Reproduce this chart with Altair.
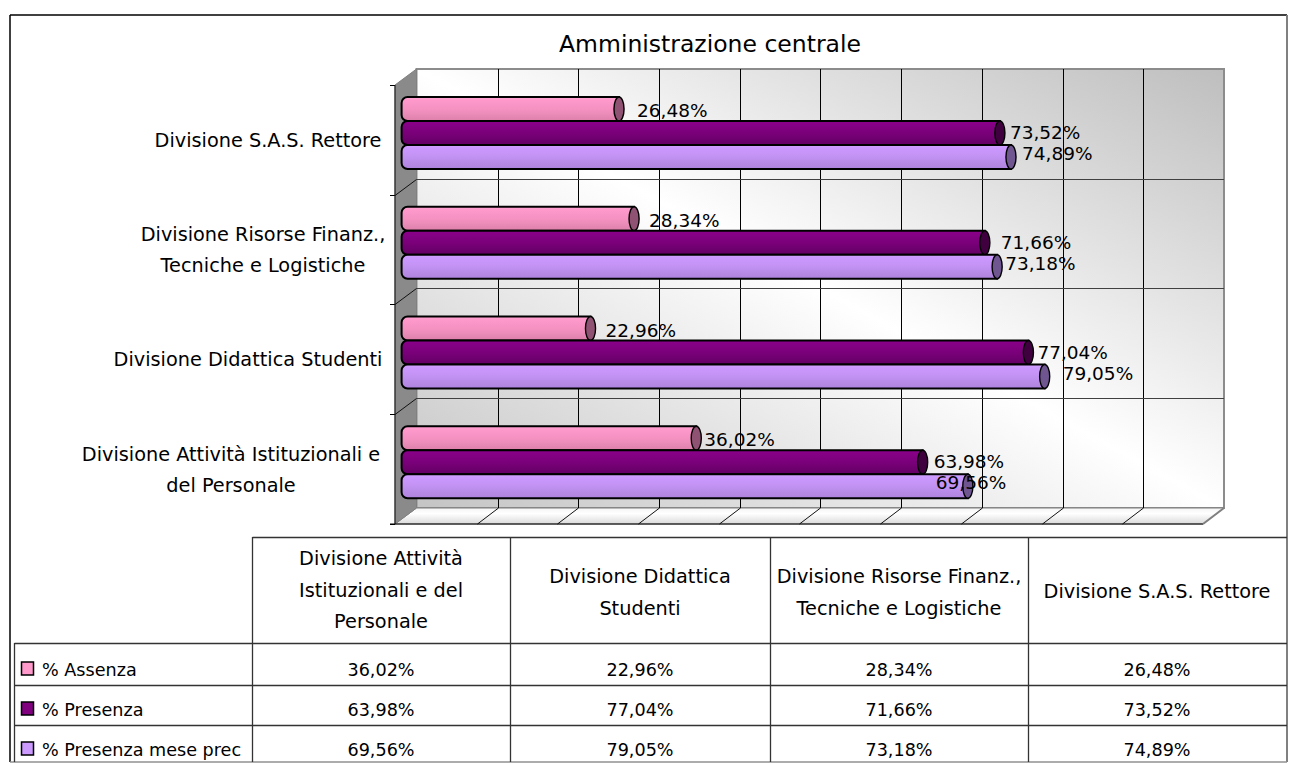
import altair as alt
import pandas as pd

# ---- chart values -------------------------------------------------------
categories = ["Divisione S.A.S. Rettore", "Divisione Risorse Finanz., Tecniche e Logistiche",
              "Divisione Didattica Studenti", "Divisione Attività Istituzionali e del Personale"]
series = ["% Assenza", "% Presenza", "% Presenza mese prec"]
assenza = [26.48, 28.34, 22.96, 36.02]
presenza = [73.52, 71.66, 77.04, 63.98]
presenza_prec = [74.89, 73.18, 79.05, 69.56]
title_text = "Amministrazione centrale"
axis_labels = [["Divisione S.A.S. Rettore"], ["Divisione Risorse Finanz.,", "Tecniche e Logistiche"],
               ["Divisione Didattica Studenti"], ["Divisione Attività Istituzionali e", "del Personale"]]
table_headers = [["Divisione Attività", "Istituzionali e del", "Personale"],
                 ["Divisione Didattica", "Studenti"],
                 ["Divisione Risorse Finanz.,", "Tecniche e Logistiche"],
                 ["Divisione S.A.S. Rettore"]]
# manual nudges of the data labels (pixels from the cylinder cap), per series and category
label_nudge = {"% Assenza": [18, 15, 15, 8], "% Presenza": [10, 16, 9, 11], "% Presenza mese prec": [11, 8, 18, -32]}

# ---- layout (page pixels; the page margin is 8) ---------------------------
FONT = "DejaVu Sans"
W, H = 1282, 755
def P(v):
    return v - 8
X0, XK = 404.6, 8.097
x_scale = alt.Scale(domain=[0, 100], range=[P(X0), P(X0 + 100 * XK)])
y_scale = alt.Scale(domain=categories, range=[P(85), P(524)], paddingInner=0, paddingOuter=0)
off_scale = alt.Scale(domain=series, range=[12, 84], paddingInner=0, paddingOuter=0)
RAWX = lambda f: alt.X(f, type="quantitative", scale=None, axis=None)
RAWY = lambda f: alt.Y(f, type="quantitative", scale=None, axis=None)
RAWX2 = lambda f: alt.X2(f)
RAWY2 = lambda f: alt.Y2(f)

def grad(stops, x1=0, y1=0, x2=0, y2=1):
    return alt.Gradient(gradient="linear", x1=x1, y1=y1, x2=x2, y2=y2,
                        stops=[alt.GradientStop(color=c, offset=o) for o, c in stops])

values_by_series = {"% Assenza": assenza, "% Presenza": presenza, "% Presenza mese prec": presenza_prec}
rows = []
for s in series:
    for i, c in enumerate(categories):
        v = values_by_series[s][i]
        rows.append({"series": s, "cat": c, "value": v, "start": -3 / XK,
                     "label": f"{v:.2f}".replace(".", ",") + "%",
                     "lx": v + label_nudge[s][i] / XK})
df = pd.DataFrame(rows)

bar_fill = {"% Assenza": [(0, "#ffa6d3"), (0.12, "#ff99cc"), (0.5, "#f592c2"), (0.75, "#e88ab6"), (1, "#dc7fa9")],
            "% Presenza": [(0, "#8a008a"), (0.5, "#7a007a"), (1, "#640064")],
            "% Presenza mese prec": [(0, "#d3a6ff"), (0.12, "#cc99ff"), (0.5, "#c292f2"), (0.75, "#b78ae6"), (1, "#ad83dc")]}
cap_fill = {"% Assenza": "#8f5272", "% Presenza": "#40003f", "% Presenza mese prec": "#6f5690"}
key_fill = {"% Assenza": "#ff99cc", "% Presenza": "#800080", "% Presenza mese prec": "#cc99ff"}
label_dy = {"% Assenza": 2, "% Presenza": 0, "% Presenza mese prec": -3}
CAP = "M0,-1 C0.232,-1 0.42,-0.55 0.42,0 C0.42,0.55 0.232,1 0,1 C-0.232,1 -0.42,0.55 -0.42,0 C-0.42,-0.55 -0.232,-1 0,-1 Z"

layers = []

def hrule(x, x2, y, color, width):
    d = pd.DataFrame({"x": [P(x)], "x2": [P(x2)], "y": [P(y)]})
    return alt.Chart(d).mark_rule(color=color, strokeWidth=width).encode(x=RAWX("x"), x2=RAWX2("x2"), y=RAWY("y"))

def vrule(x, y, y2, color, width):
    d = pd.DataFrame({"x": [P(x)], "y": [P(y)], "y2": [P(y2)]})
    return alt.Chart(d).mark_rule(color=color, strokeWidth=width).encode(x=RAWX("x"), y=RAWY("y"), y2=RAWY2("y2"))

def diag(x, x2, y, y2, color, width):
    d = pd.DataFrame({"x": [P(x)], "x2": [P(x2)], "y": [P(y)], "y2": [P(y2)]})
    return alt.Chart(d).mark_rule(color=color, strokeWidth=width).encode(
        x=RAWX("x"), x2=RAWX2("x2"), y=RAWY("y"), y2=RAWY2("y2"))

# frame
layers.append(hrule(10, 1287, 15, "#000000", 1.5))
layers.append(vrule(10, 15, 762, "#000000", 1.5))
layers.append(vrule(1287, 15, 762, "#808080", 2))
layers.append(hrule(10, 1287, 762, "#909090", 1.5))

# back wall: grey in the top-right and bottom-left corners, white along the other diagonal
wall = pd.DataFrame([{"x": P(416.5), "x2": P(1224), "y": P(69), "y2": P(508)}])
layers.append(alt.Chart(wall).mark_rect(
    fill=grad([(0, "#bebebe"), (0.5, "#ffffff"), (1, "#c4c4c4")], x1=1, y1=0, x2=0, y2=1),
    stroke="#8c8c8c", strokeWidth=2).encode(x=RAWX("x"), x2=RAWX2("x2"), y=RAWY("y"), y2=RAWY2("y2")))

# floor and side wall
floor = pd.DataFrame([{"y": P(508), "x": P(416.5), "x2": P(1224)}, {"y": P(524), "x": P(395), "x2": P(1203)}])
layers.append(alt.Chart(floor).mark_area(
    orient="horizontal", fill=grad([(0, "#f4f4f4"), (0.35, "#ffffff"), (1, "#dadada")]),
    stroke="#808080", strokeWidth=1).encode(x=RAWX("x"), x2=RAWX2("x2"), y=RAWY("y")))
side = pd.DataFrame([{"x": P(395), "y": P(85), "y2": P(524)}, {"x": P(416.5), "y": P(69), "y2": P(508)}])
layers.append(alt.Chart(side).mark_area(orient="vertical", fill="#8a8a8a", stroke="#808080", strokeWidth=1).encode(
    x=RAWX("x"), y=RAWY("y"), y2=RAWY2("y2")))

# gridlines
vlines = [round(417 + 80.7 * k) + 0.5 for k in range(1, 10)]
hlines = [round(69 + 109.75 * k) + 0.5 for k in range(1, 4)]
for v in vlines:
    layers.append(vrule(v, 69, 508, "#000000", 1))
    layers.append(diag(v, v - 21, 508, 524, "#111111", 1))
for h in hlines:
    layers.append(hrule(416.5, 1224, h, "#404040", 1.2))
side_y = [round(85 + 109.75 * k) + 0.5 for k in range(0, 5)]
for y in side_y:
    layers.append(hrule(390, 395, y, "#000000", 1))
for y in side_y[1:4]:
    layers.append(diag(395, 416.5, y, y - 16, "#111111", 1))
layers.append(vrule(395, 85, 524, "#111111", 1))
layers.append(hrule(390, 1203, 524, "#000000", 1.2))
layers.append(diag(1203, 1224, 524, 508, "#808080", 2))

# cylinders
for s in series:
    d = df[df.series == s]
    layers.append(alt.Chart(d).mark_bar(
        fill=grad(bar_fill[s]), stroke="#000000", strokeWidth=2,
        cornerRadiusTopLeft=6, cornerRadiusBottomLeft=6).encode(
        x=alt.X("start:Q", scale=x_scale, axis=None), x2="value:Q",
        y=alt.Y("cat:N", scale=y_scale, axis=None),
        yOffset=alt.YOffset("series:N", scale=off_scale)))
    layers.append(alt.Chart(d).mark_point(
        shape=CAP, size=576, filled=True, fill=cap_fill[s], stroke="#000000", strokeWidth=1.4, opacity=1).encode(
        x=alt.X("value:Q", scale=x_scale, axis=None),
        y=alt.Y("cat:N", scale=y_scale, axis=None),
        yOffset=alt.YOffset("series:N", scale=off_scale)))

# data labels
for s in series:
    d = df[df.series == s]
    layers.append(alt.Chart(d).mark_text(align="left", baseline="middle", font=FONT, fontSize=18.5,
                                         color="#000000", dy=label_dy[s]).encode(
        x=alt.X("lx:Q", scale=x_scale, axis=None),
        y=alt.Y("cat:N", scale=y_scale, axis=None),
        yOffset=alt.YOffset("series:N", scale=off_scale),
        text="label:N"))

# category labels (centred blocks left of the chart); multi-line text hangs from its first line
label_cx = [268, 263, 248, 231]
axis_df = pd.DataFrame({"cat": categories, "lines": axis_labels, "cx": [P(v) for v in label_cx],
                        "n": [len(a) for a in axis_labels]})
for n, dy in [(1, 1), (2, -14.5)]:
    layers.append(alt.Chart(axis_df[axis_df.n == n]).mark_text(
        align="center", baseline="middle", font=FONT, fontSize=19.3, color="#000000", lineHeight=31, dy=dy).encode(
        x=RAWX("cx"), y=alt.Y("cat:N", scale=y_scale, axis=None), text="lines"))

# title
layers.append(alt.Chart(pd.DataFrame({"t": [title_text], "x": [P(710)], "y": [P(45)]})).mark_text(
    align="center", baseline="middle", font=FONT, fontSize=23.5, color="#000000").encode(
    x=RAWX("x"), y=RAWY("y"), text="t"))

# data table grid
GRID = "#333333"
for x in [252.5, 510.5, 770.5, 1028.5]:
    layers.append(vrule(x, 537, 762, GRID, 1.3))
layers.append(vrule(14.5, 643, 762, GRID, 1.3))
layers.append(hrule(252.5, 1287, 537.5, GRID, 1.3))
for y in [643.5, 685.5, 725.5]:
    layers.append(hrule(14.5, 1287, y, GRID, 1.3))

# table headers (y of the first line of each cell)
head_cx = [381, 640, 899, 1157]
head_first_y = [559, 577, 577, 592]
head_df = pd.DataFrame({"lines": table_headers, "x": [P(v) for v in head_cx], "y": [P(v) for v in head_first_y]})
layers.append(alt.Chart(head_df).mark_text(align="center", baseline="middle", font=FONT, fontSize=19.3,
                                           color="#000000", lineHeight=31.5).encode(
    x=RAWX("x"), y=RAWY("y"), text="lines"))

# table body
row_cy = dict(zip(series, [670, 710, 750]))
order = categories[::-1]
tb = df.copy()
tb["x"] = tb["cat"].map(lambda c: P(head_cx[order.index(c)]))
tb["y"] = tb["series"].map(lambda s: P(row_cy[s] + 1))
layers.append(alt.Chart(tb).mark_text(align="center", baseline="middle", font=FONT, fontSize=17.6, color="#000000").encode(
    x=RAWX("x"), y=RAWY("y"), text="label:N"))

# legend keys in the first column
for s in series:
    k = pd.DataFrame([{"series": s, "x": P(21.5), "x2": P(33.5), "y": P(row_cy[s] - 8), "y2": P(row_cy[s] + 5), "lx": P(42), "ly": P(row_cy[s] + 1)}])
    layers.append(alt.Chart(k).mark_rect(fill=key_fill[s], stroke="#000000", strokeWidth=1.5).encode(
        x=RAWX("x"), x2=RAWX2("x2"), y=RAWY("y"), y2=RAWY2("y2")))
    layers.append(alt.Chart(k).mark_text(align="left", baseline="middle", font=FONT, fontSize=17.6, color="#000000").encode(
        x=RAWX("lx"), y=RAWY("ly"), text="series:N"))

chart = alt.layer(*layers).properties(
    width=W, height=H, padding=0, autosize=alt.AutoSizeParams(type="none"), background="white"
).configure_view(stroke=None)

chart.save("out.html", embed_options={"renderer": "svg", "actions": False})
